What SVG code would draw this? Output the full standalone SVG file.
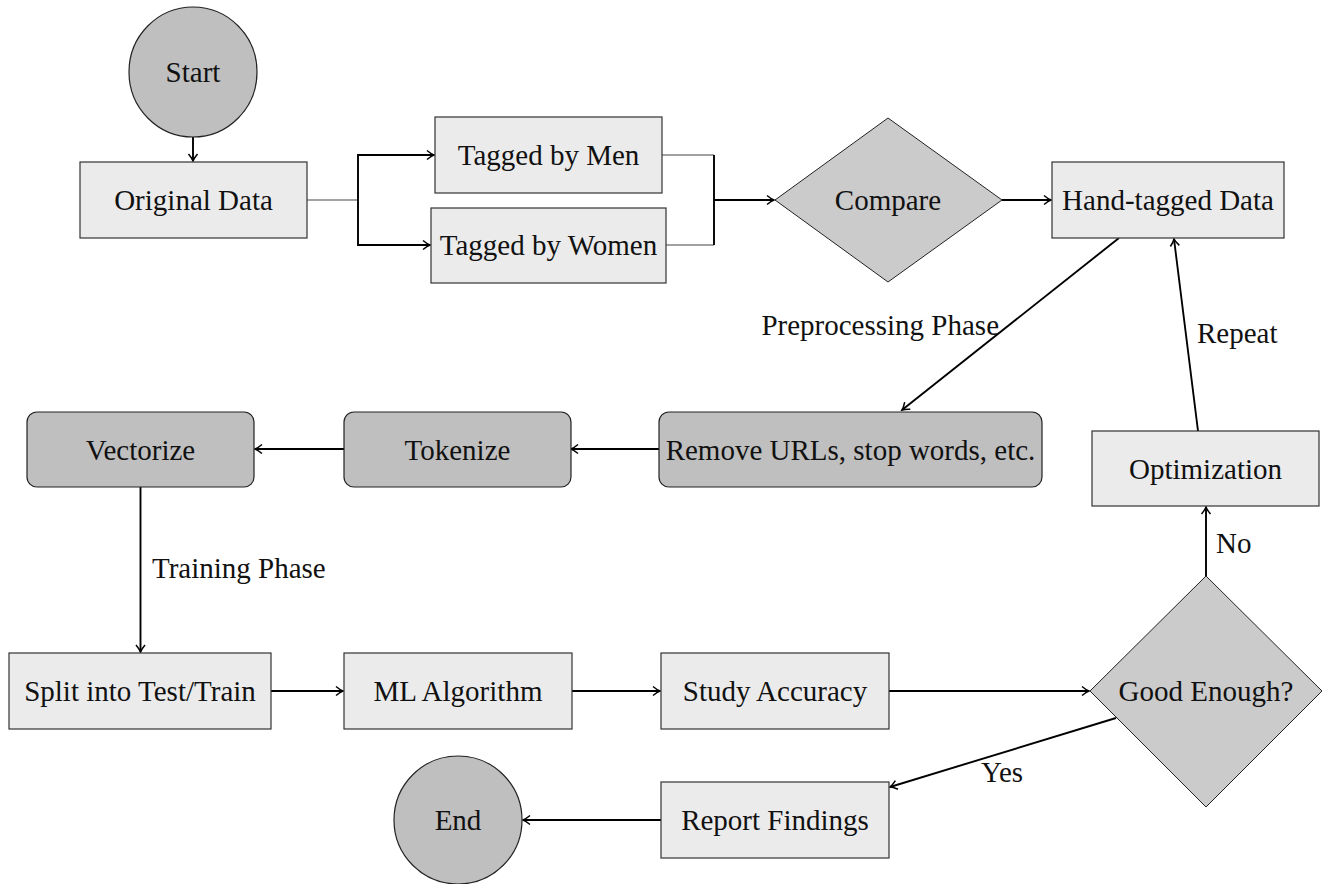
<svg xmlns="http://www.w3.org/2000/svg" width="1325" height="884" viewBox="0 0 1325 884">
<style>
text{font-family:"Liberation Serif","Times New Roman",serif;font-size:29px;fill:#111;text-anchor:middle;dominant-baseline:central}
.lbl{text-anchor:start}
.box{fill:#ebebeb;stroke:#333;stroke-width:1.2}
.dark{fill:#bfbfbf;stroke:#222;stroke-width:1.2}
.dia{fill:#cbcbcb;stroke:#222;stroke-width:1}
.c{fill:none;stroke:#000;stroke-width:1.9}
.thin{fill:none;stroke:#444;stroke-width:1.1}
</style>
<defs>
<marker id="arr" markerUnits="userSpaceOnUse" viewBox="-9 -6 11 12" refX="0" refY="0" markerWidth="11" markerHeight="12" orient="auto">
<path d="M-7,-4.5 C-4,-2 -1.5,-0.5 0,0 C-1.5,0.5 -4,2 -7,4.5" fill="none" stroke="#000" stroke-width="1.5"/>
</marker>
</defs>
<g id="connectors">
<path class="c" d="M193,136 V161" marker-end="url(#arr)"/>
<path class="thin" d="M307,200 H358"/>
<path class="c" d="M358,200 V155 H434" marker-end="url(#arr)"/>
<path class="c" d="M358,200 V245 H430" marker-end="url(#arr)"/>
<path class="thin" d="M662,155 H714 M666,245 H714"/>
<path class="c" d="M714,155 V245"/>
<path class="c" d="M714,200 H774" marker-end="url(#arr)"/>
<path class="c" d="M1002,200 H1051" marker-end="url(#arr)"/>
<path class="c" d="M1119,238 L902,410" marker-end="url(#arr)"/>
<path class="c" d="M1198,431 L1174,239" marker-end="url(#arr)"/>
<path class="c" d="M659,449 H571" marker-end="url(#arr)"/>
<path class="c" d="M344,449 H255" marker-end="url(#arr)"/>
<path class="c" d="M140.5,487 V652" marker-end="url(#arr)"/>
<path class="c" d="M271,691 H343" marker-end="url(#arr)"/>
<path class="c" d="M572,691 H660" marker-end="url(#arr)"/>
<path class="c" d="M889,691 H1089" marker-end="url(#arr)"/>
<path class="c" d="M1206,576 V507" marker-end="url(#arr)"/>
<path class="c" d="M1116,718 L890,787" marker-end="url(#arr)"/>
<path class="c" d="M661,820 H523" marker-end="url(#arr)"/>
<text x="999" y="325" style="text-anchor:end">Preprocessing Phase</text>
<text class="lbl" x="1197" y="333">Repeat</text>
<text class="lbl" x="152" y="568">Training Phase</text>
<text class="lbl" x="1216" y="543">No</text>
<text x="1002" y="772">Yes</text>
</g>
<g id="start"><ellipse class="dark" cx="193" cy="72" rx="64" ry="65"/><text x="193" y="72">Start</text></g>
<g id="original"><rect class="box" x="80" y="162" width="227" height="76"/><text x="193.5" y="200">Original Data</text></g>
<g id="men"><rect class="box" x="435" y="117" width="227" height="76"/><text x="548.5" y="155">Tagged by Men</text></g>
<g id="women"><rect class="box" x="431" y="208" width="235" height="75"/><text x="548.5" y="245">Tagged by Women</text></g>
<g id="compare"><polygon class="dia" points="888,118 1002,200 888,282 775,200"/><text x="888" y="200">Compare</text></g>
<g id="handtagged"><rect class="box" x="1052" y="162" width="232" height="76"/><text x="1168" y="200">Hand-tagged Data</text></g>
<g id="remove"><rect class="dark" x="659" y="412" width="383" height="75" rx="10"/><text x="850.5" y="449.5">Remove URLs, stop words, etc.</text></g>
<g id="tokenize"><rect class="dark" x="344" y="412" width="227" height="75" rx="10"/><text x="457.5" y="449.5">Tokenize</text></g>
<g id="vectorize"><rect class="dark" x="27" y="412" width="227" height="75" rx="10"/><text x="140.5" y="449.5">Vectorize</text></g>
<g id="optimization"><rect class="box" x="1092" y="431" width="227" height="75"/><text x="1205.5" y="468.5">Optimization</text></g>
<g id="split"><rect class="box" x="9" y="653" width="262" height="76"/><text x="140" y="691">Split into Test/Train</text></g>
<g id="ml"><rect class="box" x="344" y="653" width="228" height="76"/><text x="458" y="691">ML Algorithm</text></g>
<g id="study"><rect class="box" x="661" y="653" width="228" height="76"/><text x="775" y="691">Study Accuracy</text></g>
<g id="good"><polygon class="dia" points="1206,576 1322,691 1206,807 1090,691"/><text x="1206" y="691">Good Enough?</text></g>
<g id="report"><rect class="box" x="661" y="782" width="228" height="76"/><text x="775" y="820">Report Findings</text></g>
<g id="end"><ellipse class="dark" cx="458" cy="820" rx="64" ry="64"/><text x="458" y="820">End</text></g>
</svg>
